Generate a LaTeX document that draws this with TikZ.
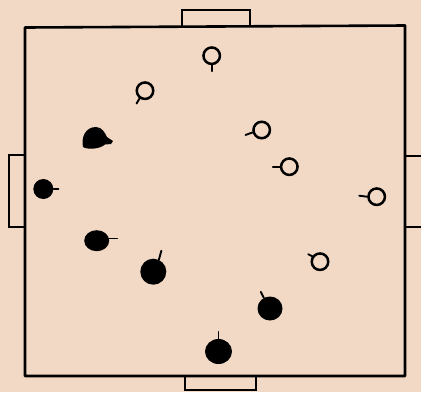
\documentclass[tikz,border=0pt]{standalone}
\usetikzlibrary{shapes.geometric}
\definecolor{paper}{RGB}{242,217,197}
\begin{document}
\begin{tikzpicture}[x=1pt,y=-1pt,
  field/.style={line width=2.6pt,line join=round},
  goal/.style={line width=2pt},
  openp/.style={circle,draw,line width=2.5pt,minimum size=16.5pt,inner sep=0pt},
  filledp/.style={ellipse,fill=black,inner sep=0pt},
  tick/.style={line width=1.9pt,line cap=round}]
\fill[paper] (0,0) rectangle (421,392);
\useasboundingbox (0,0) rectangle (421,392);
% field
\draw[field] (25,27.5) -- (405,25.5) -- (405,376) -- (25,376) -- cycle;
% goals
\draw[goal] (182,27) -- (182,10) -- (250,10) -- (250,26);
\draw[goal] (185,376) -- (185,390) -- (256,390) -- (256,376);
\draw[goal] (25,155) -- (8.5,155) -- (8.5,227) -- (25,227);
\draw[goal] (405,156) -- (421,156);
\draw[goal] (405,227) -- (421,227);
% open players
\node[openp] (o1) at (211.7,55.7) {};
\node[openp] (o2) at (145,90.7) {};
\node[openp] (o3) at (261.7,130) {};
\node[openp] (o4) at (289.3,166.7) {};
\node[openp] (o5) at (376.7,196.7) {};
\node[openp] (o6) at (320,261.7) {};
\draw[tick] (o1.south) -- ++(0,6);
\draw[tick] (o2.235) -- ++(-3,5);
\draw[tick] (o3.195) -- ++(-7,2.5);
\draw[tick] (o4.west) -- ++(-7,0);
\draw[tick] (o5.west) -- ++(-8,-1);
\draw[tick] (o6.145) -- ++(-4,-2);
% filled players
\fill (83,147) .. controls (81,138) and (85,127) .. (96,127)
  .. controls (102,127) and (105,133) .. (107,137) -- (113,141) -- (111,144)
  -- (105,144.5) .. controls (100,149) and (88,150) .. (83,147) -- cycle;
\node[filledp,minimum width=20pt,minimum height=20pt] (f1) at (43.3,189) {};
\node[filledp,minimum width=25pt,minimum height=21pt] (f2) at (96.7,240.7) {};
\node[filledp,minimum width=26pt,minimum height=26pt] (f3) at (153.3,271.7) {};
\node[filledp,minimum width=25pt,minimum height=24pt] (f4) at (270,308.5) {};
\node[filledp,minimum width=27pt,minimum height=25pt] (f5) at (218.5,351.5) {};
\draw[tick] (f1.east) -- ++(5,0);
\draw[tick] (f2.10) -- ++(8,0);
\draw[tick] (f3.65) -- ++(2.5,-9);
\draw[tick] (f4.120) -- ++(-3,-6);
\draw[tick] (f5.north) -- ++(0,-7);
\end{tikzpicture}
\end{document}
